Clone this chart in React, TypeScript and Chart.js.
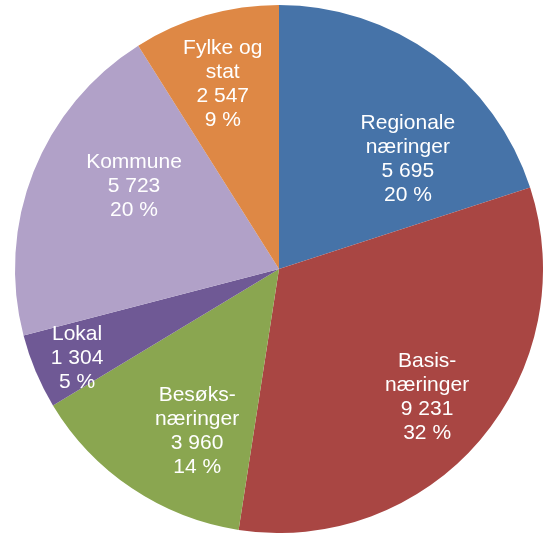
import React, { useEffect, useRef } from "react";
import { Chart, registerables } from "chart.js";

Chart.register(...registerables);

const categories: string[][] = [
  ["Regionale", "næringer"],
  ["Basis-", "næringer"],
  ["Besøks-", "næringer"],
  ["Lokal"],
  ["Kommune"],
  ["Fylke og", "stat"],
];
const values: number[] = [5695, 9231, 3960, 1304, 5723, 2547];
const colors: string[] = ["#4673A8", "#A94643", "#8AA650", "#6F5995", "#B1A1C8", "#DE8845"];

const fmt = (n: number) => String(n).replace(/\B(?=(\d{3})+(?!\d))/g, " ");

const labelPlugin = {
  id: "sliceLabels",
  afterDatasetsDraw(chart: any, _args: any, opts: any) {
    const ctx = chart.ctx;
    const meta = chart.getDatasetMeta(0);
    const data = chart.data.datasets[0].data as number[];
    const total = data.reduce((a, b) => a + b, 0);
    ctx.save();
    ctx.fillStyle = "#FFFFFF";
    ctx.font = opts.font;
    ctx.textAlign = "center";
    ctx.textBaseline = "middle";
    meta.data.forEach((arc: any, i: number) => {
      const { x, y, startAngle, endAngle, outerRadius } = arc.getProps(
        ["x", "y", "startAngle", "endAngle", "outerRadius"],
        true
      );
      const a = startAngle + (endAngle - startAngle) * opts.angleFrac[i];
      const r = outerRadius * opts.radiusFrac[i];
      const cx = x + Math.cos(a) * r;
      const cy = y + Math.sin(a) * r + 2;
      const lines = [
        ...categories[i],
        fmt(data[i]),
        Math.round((data[i] / total) * 100) + " %",
      ];
      const lh = opts.lineHeight;
      const top = cy - ((lines.length - 1) * lh) / 2;
      lines.forEach((t, k) => ctx.fillText(t, cx, top + k * lh));
    });
    ctx.restore();
  },
};

export default function App() {
  const ref = useRef<HTMLCanvasElement>(null);
  useEffect(() => {
    document.body.style.margin = "0";
    const chart = new Chart(ref.current as HTMLCanvasElement, {
      type: "pie",
      data: {
        labels: categories.map((c) => c.join(" ")),
        datasets: [
          {
            data: values,
            backgroundColor: colors,
            borderWidth: 0,
          },
        ],
      },
      options: {
        animation: false,
        responsive: false,
        rotation: 0,
        layout: { padding: { left: 15, right: 0, top: 5, bottom: 0 } },
        plugins: {
          legend: { display: false },
          tooltip: { enabled: false },
          sliceLabels: {
            font: "21px 'Liberation Sans', Arial, sans-serif",
            lineHeight: 24,
            angleFrac: [0.68, 0.5, 0.365, 0.47, 0.62, 0.48],
            radiusFrac: [0.647, 0.737, 0.681, 0.833, 0.636, 0.739],
          },
        } as any,
      },
      plugins: [labelPlugin],
    });
    return () => chart.destroy();
  }, []);
  return (
    <div style={{ position: "absolute", left: 0, top: 0, width: 543, height: 533 }}>
      <canvas ref={ref} width={543} height={533} />
    </div>
  );
}
